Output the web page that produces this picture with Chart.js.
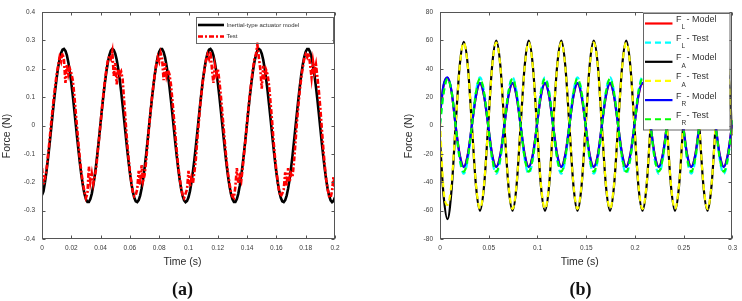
<!DOCTYPE html>
<html><head><meta charset="utf-8">
<script src="https://cdn.jsdelivr.net/npm/chart.js@4"></script>
<style>
html,body{margin:0;padding:0;background:#fff;width:742px;height:301px;overflow:hidden}
.w{position:absolute;top:0;width:371px;height:301px}
.cap{position:absolute;top:277px;width:60px;text-align:center;font-family:"Liberation Serif","DejaVu Serif",serif;font-weight:bold;font-size:18px;line-height:24px;color:#111}
</style></head>
<body>
<div class="w" style="left:0"><canvas id="ca" width="371" height="301"></canvas></div>
<div class="w" style="left:371px"><canvas id="cb" width="371" height="301"></canvas></div>
<div class="cap" style="left:152.5px">(a)</div>
<div class="cap" style="left:550.5px">(b)</div>
<script>
// ---------- (a) data ----------
const timeStepA = 0.001; // s between samples
const modelA = [
-0.245,-0.232,-0.201,-0.164,-0.121,-0.074,-0.024,0.027,0.077,0.124,
0.167,0.204,0.233,0.255,0.267,0.270,0.263,0.247,0.222,0.190,
0.150,0.106,0.057,0.007,-0.044,-0.093,-0.139,-0.180,-0.214,-0.241,
-0.260,-0.269,-0.269,-0.259,-0.240,-0.212,-0.177,-0.136,-0.090,-0.041,
0.010,0.061,0.109,0.153,0.192,0.224,0.248,0.264,0.270,0.266,
0.253,0.232,0.201,0.164,0.121,0.074,0.024,-0.027,-0.077,-0.124,
-0.167,-0.204,-0.233,-0.255,-0.267,-0.270,-0.263,-0.247,-0.222,-0.190,
-0.150,-0.106,-0.057,-0.007,0.044,0.093,0.139,0.180,0.214,0.241,
0.260,0.269,0.269,0.259,0.240,0.212,0.177,0.136,0.090,0.041,
-0.010,-0.061,-0.109,-0.153,-0.192,-0.224,-0.248,-0.264,-0.270,-0.266,
-0.253,-0.232,-0.201,-0.164,-0.121,-0.074,-0.024,0.027,0.077,0.124,
0.167,0.204,0.233,0.255,0.267,0.270,0.263,0.247,0.222,0.190,
0.150,0.106,0.057,0.007,-0.044,-0.093,-0.139,-0.180,-0.214,-0.241,
-0.260,-0.269,-0.269,-0.259,-0.240,-0.212,-0.177,-0.136,-0.090,-0.041,
0.010,0.061,0.109,0.153,0.192,0.224,0.248,0.264,0.270,0.266,
0.253,0.232,0.201,0.164,0.121,0.074,0.024,-0.027,-0.077,-0.124,
-0.167,-0.204,-0.233,-0.255,-0.267,-0.270,-0.263,-0.247,-0.222,-0.190,
-0.150,-0.106,-0.057,-0.007,0.044,0.093,0.139,0.180,0.214,0.241,
0.260,0.269,0.269,0.259,0.240,0.212,0.177,0.136,0.090,0.041,
-0.010,-0.061,-0.109,-0.153,-0.192,-0.224,-0.248,-0.264,-0.270,-0.266,
-0.253];
const testA = [
-0.150,-0.210,-0.185,-0.160,-0.110,-0.060,-0.005,0.045,0.095,0.140,
0.180,0.210,0.240,0.225,0.255,0.230,0.150,0.215,0.180,0.200,
0.185,0.160,0.110,0.050,-0.010,-0.070,-0.125,-0.170,-0.205,-0.235,
-0.255,-0.240,-0.145,-0.200,-0.170,-0.205,-0.180,-0.150,-0.095,-0.045,
0.010,0.065,0.115,0.160,0.200,0.230,0.245,0.235,0.260,0.175,
0.220,0.145,0.200,0.180,0.190,0.165,0.090,0.020,-0.050,-0.110,
-0.160,-0.200,-0.235,-0.250,-0.245,-0.225,-0.160,-0.210,-0.140,-0.195,
-0.175,-0.130,-0.070,-0.010,0.045,0.095,0.140,0.180,0.215,0.240,
0.225,0.255,0.235,0.160,0.220,0.175,0.195,0.180,0.145,0.090,
0.030,-0.030,-0.090,-0.145,-0.185,-0.220,-0.245,-0.255,-0.240,-0.225,
-0.160,-0.215,-0.185,-0.205,-0.165,-0.120,-0.050,0.010,0.070,0.120,
0.165,0.200,0.230,0.250,0.235,0.260,0.200,0.150,0.210,0.180,
0.200,0.160,0.110,0.050,-0.010,-0.070,-0.125,-0.170,-0.205,-0.235,
-0.250,-0.255,-0.215,-0.150,-0.205,-0.180,-0.195,-0.150,-0.095,-0.045,
0.010,0.065,0.115,0.160,0.200,0.235,0.250,0.285,0.240,0.200,
0.130,0.210,0.160,0.195,0.180,0.140,0.080,0.020,-0.050,-0.110,
-0.160,-0.200,-0.235,-0.250,-0.240,-0.225,-0.165,-0.215,-0.150,-0.200,
-0.170,-0.180,-0.130,-0.060,0.010,0.070,0.125,0.170,0.205,0.235,
0.250,0.240,0.255,0.215,0.170,0.225,0.190,0.215,0.170,0.120,
0.060,-0.010,-0.080,-0.140,-0.190,-0.225,-0.250,-0.255,-0.230,-0.180,
-0.225];
const xTicksA = [0,0.02,0.04,0.06,0.08,0.1,0.12,0.14,0.16,0.18,0.2];
const yTicksA = [-0.4,-0.3,-0.2,-0.1,0,0.1,0.2,0.3,0.4];
const legendA = ['Inertial-type actuator model','Test'];

// ---------- (b) data ----------
const timeB = [0,0.0035,
0.0077,0.0119,0.0160,0.0202,0.0244,0.0285,0.0327,0.0369,
0.0410,0.0452,0.0494,0.0535,0.0577,0.0619,0.0660,0.0702,
0.0744,0.0785,0.0827,0.0869,0.0910,0.0952,0.0994,0.1035,
0.1077,0.1119,0.1160,0.1202,0.1244,0.1285,0.1327,0.1369,
0.1410,0.1452,0.1494,0.1535,0.1577,0.1619,0.1660,0.1702,
0.1744,0.1785,0.1827,0.1869,0.1910,0.1952,0.1994,0.2035,
0.2077,0.2119,0.2160,0.2202,0.2244,0.2285,0.2327,0.2369,
0.2410,0.2452,0.2494,0.2535,0.2577,0.2619,0.2660,0.2702,
0.2744,0.2785,0.2827,0.2869,0.2910,0.2952,0.2994,0.3000];
const fAModelB = [-10,-48,
-66,-45,0,42,59,42.3,0,-42.5,
-60,-42.5,0,42.3,59.8,42.3,0,-42.5,
-60,-42.5,0,42.3,59.8,42.3,0,-42.5,
-60,-42.5,0,42.3,59.8,42.3,0,-42.5,
-60,-42.5,0,42.3,59.8,42.3,0,-42.5,
-60,-42.5,0,42.3,59.8,42.3,0,-42.5,
-60,-42.5,0,42.3,59.8,42.3,0,-42.5,
-60,-42.5,0,42.3,59.8,42.3,0,-42.5,
-60,-42.5,0,42.3,59.8,42.3,0,-7];
const fATestB = [3,-44,
-56,-40,0,41.5,58.5,41.5,0,-41.5,
-58.8,-41.5,0,41.5,58.5,41.5,0,-41.5,
-58.8,-41.5,0,41.5,58.5,41.5,0,-41.5,
-58.8,-41.5,0,41.5,58.5,41.5,0,-41.5,
-58.8,-41.5,0,41.5,58.5,41.5,0,-41.5,
-58.8,-41.5,0,41.5,58.5,41.5,0,-41.5,
-58.8,-41.5,0,41.5,58.5,41.5,0,-41.5,
-58.8,-41.5,0,41.5,58.5,41.5,0,-41.5,
-58.8,-41.5,0,41.5,58.5,41.5,0,-6];
const fLModelB = [8,27.5,
33.5,23.6,0,-20.5,-29,-20.5,0,20.8,
29.5,20.8,0,-20.5,-29,-20.5,0,20.8,
29.5,20.8,0,-20.5,-29,-20.5,0,20.8,
29.5,20.8,0,-20.5,-29,-20.5,0,20.8,
29.5,20.8,0,-20.5,-29,-20.5,0,20.8,
29.5,20.8,0,-20.5,-29,-20.5,0,20.8,
29.5,20.8,0,-20.5,-29,-20.5,0,20.8,
29.5,20.8,0,-20.5,-29,-20.5,0,20.8,
29.5,20.8,0,-20.5,-29,-20.5,0,3.5];
const fLTestB = [1,22,
33,24.5,0,-24,-34,-24,0,24,
34,24,0,-24,-34,-24,0,24,
34,24,0,-24,-34,-24,0,24,
34,24,0,-24,-34,-24,0,24,
34,24,0,-24,-34,-24,0,24,
34,24,0,-24,-34,-24,0,24,
34,24,0,-24,-34,-24,0,24,
34,24,0,-24,-34,-24,0,24,
34,24,0,-24,-34,-24,0,4];
const fRModelB = [8,28,
34,24,0,-20.8,-29.3,-20.8,0,21,
30,21,0,-20.8,-29.3,-20.8,0,21,
30,21,0,-20.8,-29.3,-20.8,0,21,
30,21,0,-20.8,-29.3,-20.8,0,21,
30,21,0,-20.8,-29.3,-20.8,0,21,
30,21,0,-20.8,-29.3,-20.8,0,21,
30,21,0,-20.8,-29.3,-20.8,0,21,
30,21,0,-20.8,-29.3,-20.8,0,21,
30,21,0,-20.8,-29.3,-20.8,0,3.5];
const fRTestB = [1,22,
33,23.5,0,-23,-32.5,-23,0,23.3,
33,23.3,0,-23,-32.5,-23,0,23.3,
33,23.3,0,-23,-32.5,-23,0,23.3,
33,23.3,0,-23,-32.5,-23,0,23.3,
33,23.3,0,-23,-32.5,-23,0,23.3,
33,23.3,0,-23,-32.5,-23,0,23.3,
33,23.3,0,-23,-32.5,-23,0,23.3,
33,23.3,0,-23,-32.5,-23,0,23.3,
33,23.3,0,-23,-32.5,-23,0,4];
const xTicksB = [0,0.05,0.1,0.15,0.2,0.25,0.3];
const yTicksB = [-80,-60,-40,-20,0,20,40,60,80];
const legendSubB = ['L','L','A','A','R','R'];
const legendKindB = ['Model','Test','Model','Test','Model','Test'];

// ---------- helpers ----------
const FONT = '"Liberation Sans", Arial, sans-serif';
Chart.defaults.font.family = FONT;
const fmt = v => String(parseFloat(Number(v).toFixed(4)));
const pts = (xs, ys) => ys.map((v, i) => ({x: xs[i], y: v}));
const timeA = modelA.map((_, i) => +(i * timeStepA).toFixed(3));

function axes(xTicks, yTicks, yWidth) {
  const common = {
    type: 'linear',
    grid: {display: false, drawTicks: false},
    border: {display: false},
  };
  return {
    x: Object.assign({}, common, {
      min: xTicks[0], max: xTicks[xTicks.length - 1],
      afterBuildTicks: ax => { ax.ticks = xTicks.map(v => ({value: v})); },
      afterFit: ax => { ax.height = 20; },
      ticks: {autoSkip: false, maxRotation: 0, minRotation: 0, padding: 5,
        font: {size: 6.5}, color: '#3a3a3a', callback: fmt}
    }),
    y: Object.assign({}, common, {
      min: yTicks[0], max: yTicks[yTicks.length - 1],
      afterBuildTicks: ax => { ax.ticks = yTicks.map(v => ({value: v})); },
      afterFit: ax => { ax.width = yWidth; },
      ticks: {autoSkip: false, padding: 7, font: {size: 6.5}, color: '#3a3a3a', callback: fmt}
    })
  };
}

function framePlugin(cfg) {
  return {
    id: 'frame_' + cfg.id,
    afterDatasetsDraw(chart) {
      const {ctx, chartArea: a, scales: {x, y}} = chart;
      ctx.save();
      const L = Math.round(a.left) + 0.5, R = Math.round(a.right) - 0.5;
      const T = Math.round(a.top) + 0.5, B = Math.round(a.bottom) - 0.5;
      ctx.strokeStyle = '#555'; ctx.lineWidth = 1; ctx.setLineDash([]);
      ctx.beginPath();
      x.ticks.forEach(t => {
        const px = Math.round(x.getPixelForValue(t.value)) + 0.5;
        ctx.moveTo(px, B); ctx.lineTo(px, B - 3);
        ctx.moveTo(px, T); ctx.lineTo(px, T + 3);
      });
      y.ticks.forEach(t => {
        const py = Math.round(y.getPixelForValue(t.value)) + 0.5;
        ctx.moveTo(L, py); ctx.lineTo(L + 3, py);
        ctx.moveTo(R, py); ctx.lineTo(R - 3, py);
      });
      ctx.stroke();
      ctx.strokeRect(L, T, R - L, B - T);
      cfg.legend(chart, ctx, a);
      ctx.setLineDash([]);
      ctx.fillStyle = '#2a2a2a';
      ctx.font = '10.5px ' + FONT;
      ctx.textAlign = 'center'; ctx.textBaseline = 'middle';
      ctx.fillText(cfg.xTitle, (a.left + a.right) / 2 + cfg.xTitleDx, cfg.xTitleY);
      ctx.save();
      ctx.translate(cfg.yTitleX, cfg.yTitleY); ctx.rotate(-Math.PI / 2);
      ctx.fillText(cfg.yTitle, 0, 0);
      ctx.restore();
      ctx.restore();
    }
  };
}

function legendBoxA(chart, ctx, a) {
  const bx = a.right - 139.5, by = a.top + 4.5, bw = 137, bh = 26;
  ctx.setLineDash([]);
  ctx.fillStyle = '#fff'; ctx.fillRect(bx, by, bw, bh);
  ctx.strokeStyle = '#666'; ctx.lineWidth = 1;
  ctx.strokeRect(Math.round(bx) + 0.5, Math.round(by) + 0.5, bw, bh);
  chart.data.datasets.forEach((ds, i) => {
    const ly = by + 8.5 + i * 11.5;
    ctx.strokeStyle = ds.borderColor; ctx.lineWidth = ds.borderWidth;
    ctx.setLineDash(ds.borderDash || []);
    ctx.beginPath(); ctx.moveTo(bx + 2.5, ly); ctx.lineTo(bx + 28.5, ly); ctx.stroke();
    ctx.setLineDash([]);
    ctx.fillStyle = '#333'; ctx.font = '6px ' + FONT;
    ctx.textAlign = 'left'; ctx.textBaseline = 'middle';
    ctx.fillText(legendA[i], bx + 31, ly);
  });
}

function legendBoxB(chart, ctx, a) {
  const bx = a.right - 89.5, by = a.top + 0.5, bw = 86.5, bh = 116.5;
  ctx.setLineDash([]);
  ctx.fillStyle = '#fff'; ctx.fillRect(bx, by, bw, bh);
  ctx.strokeStyle = '#666'; ctx.lineWidth = 1;
  ctx.strokeRect(Math.round(bx) + 0.5, Math.round(by) + 0.5, bw, bh);
  chart.data.datasets.forEach((ds, i) => {
    const ly = by + 11 + i * 19.15;
    ctx.strokeStyle = ds.borderColor; ctx.lineWidth = ds.borderWidth;
    ctx.setLineDash(ds.borderDash || []);
    ctx.beginPath(); ctx.moveTo(bx + 2, ly); ctx.lineTo(bx + 29.5, ly); ctx.stroke();
    ctx.setLineDash([]);
    ctx.fillStyle = '#333';
    ctx.textAlign = 'left'; ctx.textBaseline = 'middle';
    ctx.font = '9px ' + FONT;
    ctx.fillText('F', bx + 33, ly - 4);
    ctx.font = '6.5px ' + FONT;
    ctx.fillText(legendSubB[i], bx + 38.5, ly + 4);
    ctx.font = '9px ' + FONT;
    ctx.fillText('- ' + legendKindB[i], bx + 43.5, ly - 4);
  });
}

// ---------- chart (a) ----------
new Chart(document.getElementById('ca'), {
  type: 'line',
  data: {
    datasets: [
      {label: legendA[0], data: pts(timeA, modelA), borderColor: '#000', borderWidth: 2.6,
       pointRadius: 0, tension: 0, order: 2},
      {label: legendA[1], data: pts(timeA, testA), borderColor: '#ff0000', borderWidth: 2.6,
       borderDash: [5, 2, 2, 2], pointRadius: 0, tension: 0, order: 1}
    ]
  },
  options: {
    responsive: false, animation: false, devicePixelRatio: 1,
    layout: {padding: {top: 12, right: 36, bottom: 42, left: 0}},
    plugins: {legend: {display: false}, tooltip: {enabled: false}},
    scales: axes(xTicksA, yTicksA, 42)
  },
  plugins: [framePlugin({id: 'a', legend: legendBoxA, xTitle: 'Time (s)', xTitleDx: -6, xTitleY: 262,
    yTitle: 'Force (N)', yTitleX: 7.5, yTitleY: 136})]
});

// ---------- chart (b) ----------
const dsB = (label, data, color, dash, order) => ({
  label, data: pts(timeB, data), borderColor: color, borderWidth: 2.2,
  borderDash: dash, pointRadius: 0, cubicInterpolationMode: 'monotone', order
});
new Chart(document.getElementById('cb'), {
  type: 'line',
  data: {
    datasets: [
      dsB('F_L - Model', fLModelB, '#ff0000', [], 6),
      dsB('F_L - Test', fLTestB, '#00ffff', [6, 4], 5),
      dsB('F_A - Model', fAModelB, '#000000', [], 4),
      dsB('F_A - Test', fATestB, '#ffff00', [6, 4], 3),
      dsB('F_R - Model', fRModelB, '#0000ff', [], 2),
      dsB('F_R - Test', fRTestB, '#00ff00', [6, 4], 1)
    ]
  },
  options: {
    responsive: false, animation: false, devicePixelRatio: 1,
    layout: {padding: {top: 12, right: 9, bottom: 42, left: 0}},
    plugins: {legend: {display: false}, tooltip: {enabled: false}},
    scales: axes(xTicksB, yTicksB, 69)
  },
  plugins: [framePlugin({id: 'b', legend: legendBoxB, xTitle: 'Time (s)', xTitleDx: -6.5, xTitleY: 262,
    yTitle: 'Force (N)', yTitleX: 38, yTitleY: 136})]
});
</script>
</body></html>
